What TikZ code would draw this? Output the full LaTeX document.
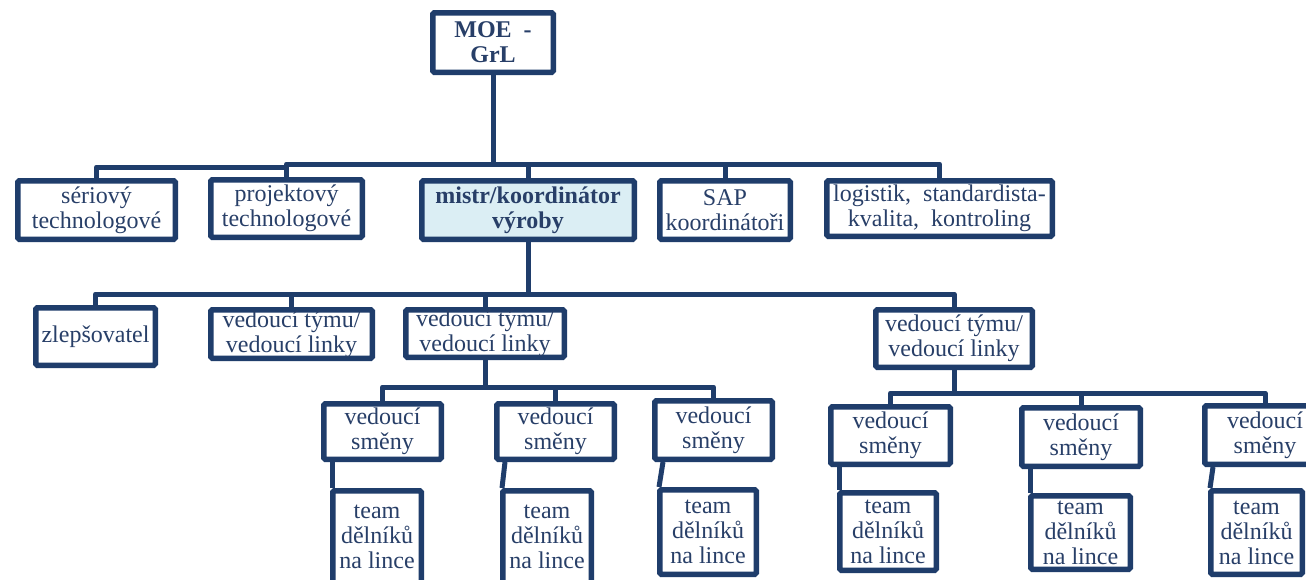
\documentclass[tikz,border=0pt]{standalone}
\usepackage{fontspec}
\setmainfont{Liberation Serif}
\usetikzlibrary{calc}

\definecolor{linec}{HTML}{1F3D6B}
\definecolor{textc}{HTML}{283F68}
\definecolor{hilite}{HTML}{DBEEF4}

\tikzset{
  box/.style={draw=linec, line width=5.5pt, rounded corners=1.5pt, fill=white,
    text=textc, align=center, inner sep=0pt,
    font=\fontsize{24}{25}\selectfont},
  lead/.style={font=\bfseries\fontsize{24}{25}\selectfont},
  conn/.style={draw=linec, line width=5pt, line join=round},
}

% \orgbox[style]{name}{left}{right}{top}{bottom}{text}  (outer edges, y downwards)
\newcommand\orgbox[7][]{%
  \node[box,#1,minimum width={(#4-#3-5.5)*1pt},minimum height={(#6-#5-5.5)*1pt}]
    (#2) at ({(#3+#4)/2},{(#5+#6)/2}) {#7};}

\begin{document}
\begin{tikzpicture}[x=1pt,y=-1pt]
\useasboundingbox (0,0) rectangle (1306,579);
\fill[white] (0,0) rectangle (1306,579);
\clip (0,0) rectangle (1306,579);

% bus levels
\coordinate (busA) at (0,167);
\coordinate (busB) at (0,164);
\coordinate (busC) at (0,294);
\coordinate (busD) at (0,387);
\coordinate (busE) at (0,393);

% top
\orgbox[lead]{moe}{430}{556}{10}{75}{MOE\ \ -\\GrL}

% second row
\orgbox{ser}{15}{178}{178}{242}{sériový\\technologové}
\orgbox{proj}{208}{365}{177}{240}{projektový\\technologové}
\orgbox[lead,fill=hilite]{mistr}{419}{637}{178}{242}{mistr/koordinátor\\výroby}
\orgbox{sap}{657}{793}{178}{242}{SAP\\koordinátoři}
\orgbox{logi}{824}{1055}{178}{239}{logistik,\ \ standardista-\\kvalita,\ \ kontroling}

% third row
\orgbox{zlep}{33}{158}{305}{368}{zlepšovatel}
\orgbox{vtA}{208}{375}{307}{361}{vedoucí týmu/\\vedoucí linky}
\orgbox{vtB}{403}{567}{307}{360}{vedoucí týmu/\\vedoucí linky}
\orgbox{vtC}{873}{1035}{307}{370}{vedoucí týmu/\\vedoucí linky}

% shift leaders
\orgbox{vsA}{321}{444}{401}{462}{vedoucí\\směny}
\orgbox{vsB}{494}{617}{401}{462}{vedoucí\\směny}
\orgbox{vsC}{652}{775}{398}{462}{vedoucí\\směny}
\orgbox{vsD}{828}{953}{404}{467}{vedoucí\\směny}
\orgbox{vsE}{1019}{1143}{405}{469}{vedoucí\\směny}
\orgbox{vsF}{1202}{1328}{403}{467}{vedoucí\\směny}

% line teams
\orgbox{tA}{330}{424}{488}{586}{team\\dělníků\\na lince}
\orgbox{tB}{500}{594}{488}{586}{team\\dělníků\\na lince}
\orgbox{tC}{657}{759}{487}{577}{team\\dělníků\\na lince}
\orgbox{tD}{837}{939}{490}{573}{team\\dělníků\\na lince}
\orgbox{tE}{1028}{1133}{493}{572}{team\\dělníků\\na lince}
\orgbox{tF}{1208}{1305}{488}{577}{team\\dělníků\\na lince}

% connectors, first level
\draw[conn] (moe.south) -- (moe.south |- busB);
\draw[conn] (ser.north) |- (proj.north |- busA);
\draw[conn] (proj.north) -- (proj.north |- busB) -| (logi.north);
\draw[conn] (mistr.north) -- (mistr.north |- busB);
\draw[conn] (sap.north) -- (sap.north |- busB);

% connectors, second level
\draw[conn] (mistr.south) -- (mistr.south |- busC);
\draw[conn] (zlep.north) |- (vtC.north |- busC) -- (vtC.north);
\draw[conn] (vtA.north) -- (vtA.north |- busC);
\draw[conn] (vtB.north) -- (vtB.north |- busC);

% connectors, third level
\draw[conn] (vtB.south) -- (vtB.south |- busD);
\draw[conn] (vsA.north) |- (vsC.north |- busD) -- (vsC.north);
\draw[conn] (vsB.north) -- (vsB.north |- busD);
\draw[conn] (vtC.south) -- (vtC.south |- busE);
\draw[conn] (vsD.north) |- (vsF.north |- busE) -- (vsF.north);
\draw[conn] (vsE.north) -- (vsE.north |- busE);

% shift leader to team
\foreach \s/\t in {vsA/tA,vsB/tB,vsC/tC,vsD/tD,vsE/tE,vsF/tF}
  \draw[conn] ($(\s.south west)+(11,0)$) -- ($(\t.north west)+(2,0)$);
\end{tikzpicture}
\end{document}
